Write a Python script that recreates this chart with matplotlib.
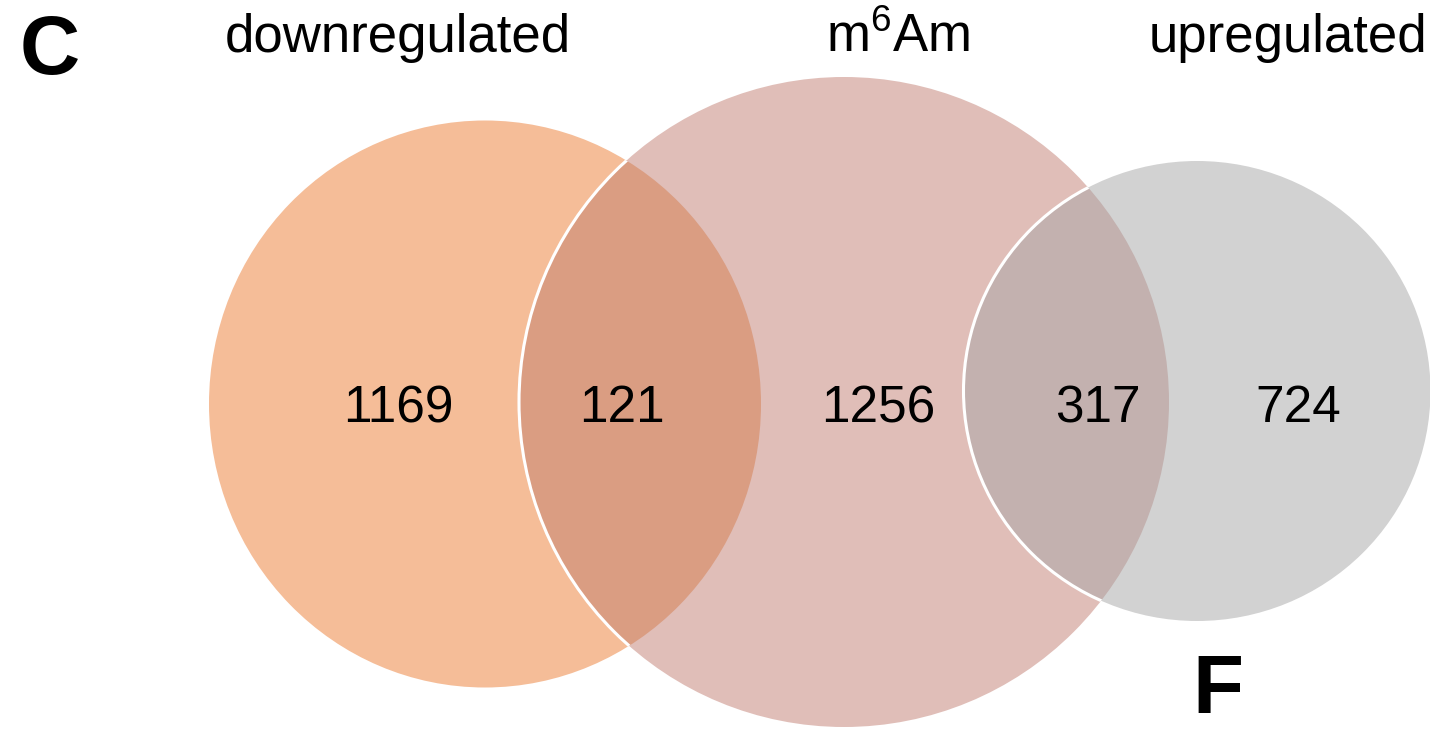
import matplotlib
matplotlib.use("Agg")
import matplotlib.pyplot as plt
from matplotlib.patches import Ellipse

plt.rcParams["font.family"] = ["Liberation Sans", "DejaVu Sans"]
plt.rcParams["mathtext.fontset"] = "custom"
plt.rcParams["mathtext.rm"] = "Liberation Sans"

# set names and region counts
set_names = ["downregulated", r"m$^{\mathregular{6}}$Am", "upregulated"]
region_labels = ["1169", "121", "1256", "317", "724"]

# layout (pixel space of the 1430x729 canvas)
W, H = 1430, 729
circles = [  # cx, cy, width, height
    (485, 404, 552, 567),
    (844, 402, 650, 650),
    (1197, 391, 467, 460),
]
fill_colors = ["#F5BD98", "#E0BEB8", "#D2D2D2"]
overlap_colors = ["#DA9D82", "#C3B1AF"]
label_x = [398, 898, 1288]
region_x = [398, 622, 878, 1098, 1298]

fig = plt.figure(figsize=(W / 100, H / 100), dpi=100)
ax = fig.add_axes([0, 0, 1, 1])
ax.set_xlim(0, W)
ax.set_ylim(H, 0)
ax.axis("off")


def ellipse(i, **kw):
    cx, cy, w, h = circles[i]
    return Ellipse((cx, cy), w, h, **kw)


# base circles
for i, c in enumerate(fill_colors):
    ax.add_patch(ellipse(i, facecolor=c, edgecolor="none", zorder=1))

# pairwise overlaps, clipped to the neighbouring circle
for k, c in enumerate(overlap_colors):
    clip = ellipse(k, facecolor="none", edgecolor="none")
    ax.add_patch(clip)
    p = ellipse(k + 1, facecolor=c, edgecolor="none", zorder=2)
    ax.add_patch(p)
    p.set_clip_path(clip)
    # thin white arc of the right-hand circle inside the left one
    edge = ellipse(k + 1, facecolor="none", edgecolor="white", lw=2.2, zorder=3)
    ax.add_patch(edge)
    edge.set_clip_path(clip)

# set labels
for x, name in zip(label_x, set_names):
    ax.text(x, 52, name, fontsize=38, ha="center", va="baseline", color="black")

# region counts
for x, s in zip(region_x, region_labels):
    ax.text(x, 422, s, fontsize=37, ha="center", va="baseline", color="black", zorder=5)

# panel letters
ax.text(20, 74, "C", fontsize=60, fontweight="bold", ha="left", va="baseline")
ax.text(1192, 713, "F", fontsize=60, fontweight="bold", ha="left", va="baseline")

fig.savefig("out.png", dpi=100, facecolor="white")
